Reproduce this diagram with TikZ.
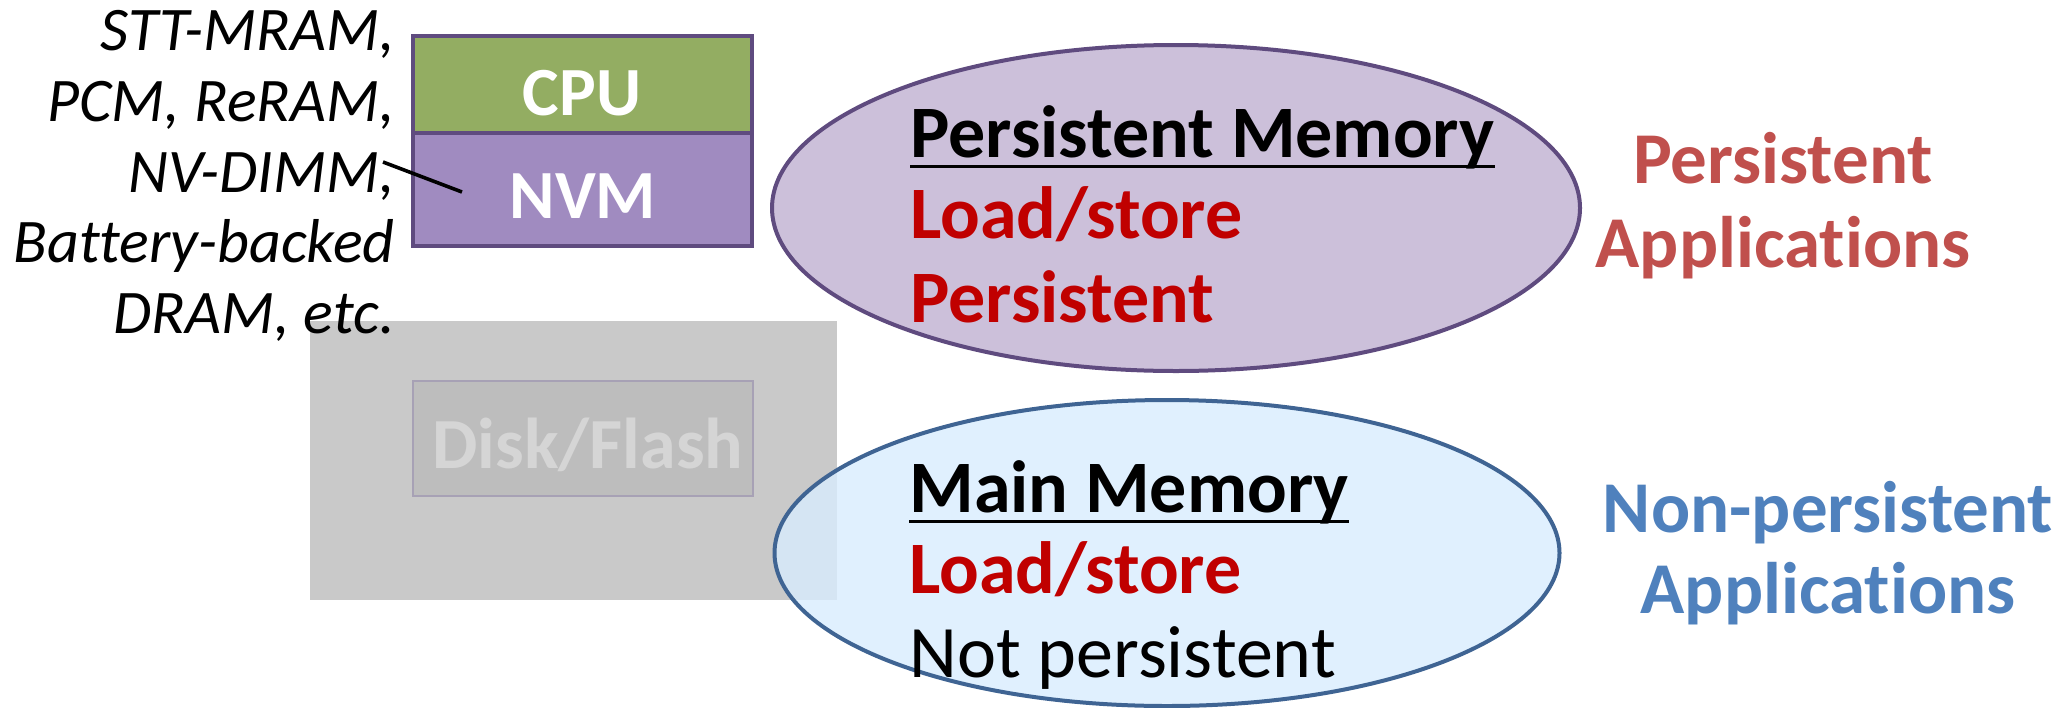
\documentclass[tikz,border=0pt]{standalone}
\usepackage{fontspec}
\setmainfont{Carlito}[Ligatures={CommonOff,ContextualOff,RareOff,RequiredOff}]
\usetikzlibrary{shapes.geometric}
\definecolor{cpugreen}{HTML}{93AD62}
\definecolor{nvmpurple}{HTML}{A08BC0}
\definecolor{boxedge}{HTML}{5F4B7F}
\definecolor{pmfill}{HTML}{CCC0DA}
\definecolor{pmedge}{HTML}{5F4B7F}
\definecolor{mmfill}{HTML}{D8ECFE}
\definecolor{mmedge}{HTML}{3F6493}
\definecolor{diskbg}{HTML}{C9C9C9}
\definecolor{diskbox}{HTML}{BDBDBD}
\definecolor{diskedge}{HTML}{A7A1B5}
\definecolor{disktext}{HTML}{D5D5D5}
\definecolor{darkred}{HTML}{C00000}
\definecolor{appred}{HTML}{C0504D}
\definecolor{appblue}{HTML}{4F81BD}
% keep t and i apart (the font joins them otherwise)
\newcommand{\appword}{Applicat\kern0pt ions}
\tikzset{
  techlabel/.style={anchor=base east, inner sep=0pt, font=\itshape\fontsize{31}{35}\selectfont},
  stackbox/.style={draw=boxedge, line width=2pt, rectangle, inner sep=0pt, minimum width=169.5pt},
  stacktext/.style={anchor=base, inner sep=0pt, text=white, font=\bfseries\fontsize{34.5}{40}\selectfont},
  memtitle/.style={anchor=base west, inner sep=0pt, font=\bfseries\fontsize{37}{44}\selectfont},
  memline/.style={anchor=base west, inner sep=0pt, text=darkred, font=\bfseries\fontsize{37}{44}\selectfont},
  memplain/.style={anchor=base west, inner sep=0pt, font=\fontsize{37}{44}\selectfont},
  applabel/.style={anchor=base, inner sep=0pt, font=\bfseries\fontsize{36.5}{44}\selectfont},
  bubble/.style={ellipse, line width=2pt, inner sep=0pt}
}
\begin{document}
\begin{tikzpicture}[x=0.5pt,y=-0.5pt]
\useasboundingbox (0,0) rectangle (2070,707);

% faded storage layer
\node[rectangle, fill=diskbg, inner sep=0pt, minimum width=263.5pt, minimum height=139.5pt] (storage) at (573.5,460.5) {};
\node[rectangle, fill=diskbox, draw=diskedge, line width=1pt, inner sep=0pt, minimum width=170pt, minimum height=57.5pt] (diskbox) at (583,438.5) {};
\node[anchor=base, inner sep=0pt, text=disktext, font=\bfseries\fontsize{36}{42}\selectfont] (disk) at (588,468) {Disk/Flash};

% processor and NVM stack
\node[stackbox, fill=cpugreen, minimum height=48.5pt] (cpu) at (582.5,84.5) {};
\node[stackbox, fill=nvmpurple, minimum height=56.5pt] (nvm) at (582.5,189.5) {};
\node[stacktext] (cputext) at (582,115) {CPU};
\node[stacktext] (nvmtext) at (583,218) {NVM};

% NVM technologies
\node[techlabel] (t1) at (395,50) {STT-MRAM,};
\node[techlabel] (t2) at (395,121) {PCM, ReRAM,};
\node[techlabel] (t3) at (395,192) {NV-DIMM,};
\node[techlabel] (t4) at (395,262) {Battery-backed};
\node[techlabel] (t5) at (395,333) {DRAM, etc.};
\coordinate (tickA) at (383,162);
\coordinate (tickB) at (462,192);
\draw[line width=1.8pt] (tickA) -- (tickB);

% persistent memory bubble
\node[bubble, draw=pmedge, fill=pmfill, minimum width=404pt, minimum height=163pt] (pm) at (1176,208) {};
\node[memtitle] (pmtitle) at (910,157) {Persistent Memory};
\draw[line width=1.5pt] ([yshift=-4.5pt]pmtitle.base west) -- ([yshift=-4.5pt]pmtitle.base east);
\node[memline] (pmls) at (910,238) {Load/store};
\node[memline] (pmp) at (910,322) {Persistent};

% main memory bubble
\node[bubble, draw=mmedge, fill=mmfill, fill opacity=0.8, minimum width=392.5pt, minimum height=153pt] (mm) at (1167,553) {};
\node[memtitle] (mmtitle) at (909,512) {Main Memory};
\draw[line width=1.5pt] ([yshift=-4.5pt]mmtitle.base west) -- ([yshift=-4.5pt]mmtitle.base east);
\node[memline] (mmls) at (909,593) {Load/store};
\node[memplain] (mmnp) at (909,677) {Not persistent};

% application classes
\node[applabel, text=appred] (pa1) at (1783,183) {Persistent};
\node[applabel, text=appred] (pa2) at (1783,267) {\appword};
\node[applabel, text=appblue] (na1) at (1828,532) {Non-persistent};
\node[applabel, text=appblue] (na2) at (1828,613) {\appword};
\end{tikzpicture}
\end{document}
